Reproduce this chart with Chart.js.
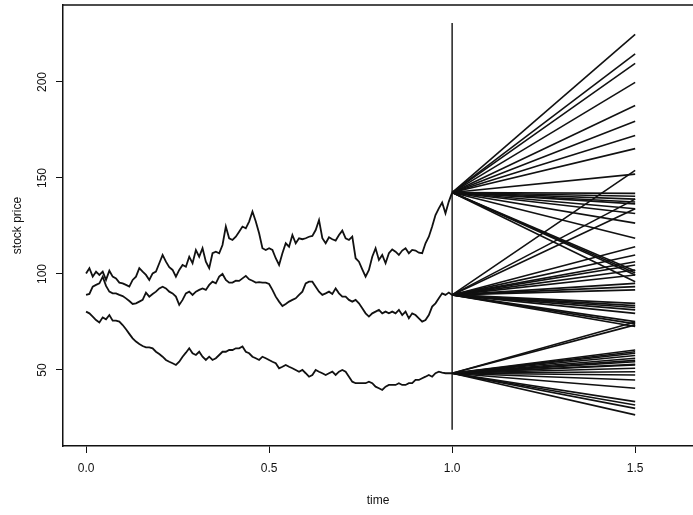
<!DOCTYPE html>
<html>
<head>
<meta charset="utf-8">
<script src="https://cdn.jsdelivr.net/npm/chart.js@4/dist/chart.umd.min.js"></script>
<style>
  html, body { margin: 0; padding: 0; background: #fff; }
  #wrap { width: 693px; height: 515px; position: relative; }
</style>
</head>
<body>
<div id="wrap"><canvas id="c" width="693" height="515"></canvas></div>
<script>
// Three simulated price paths over [0, 1], sampled at 111 equally spaced times.
const topPath = [
  100.3, 103.0, 98.6, 101.2, 99.5, 101.2, 96.9, 101.7, 98.6, 97.7,
  95.5, 95.1, 94.3, 93.4, 96.9, 98.6, 103.0, 101.2, 99.5, 96.9,
  100.3, 101.2, 105.6, 109.9, 106.4, 103.5, 102.1, 98.6, 102.1, 104.7,
  103.8, 109.0, 105.6, 112.5, 109.0, 113.4, 106.4, 103.0, 110.8, 111.6,
  110.8, 115.1, 124.7, 118.6, 117.7, 119.4, 122.0, 124.7, 123.8, 127.3,
  132.5, 127.3, 121.2, 113.4, 112.5, 113.4, 112.5, 108.2, 104.7, 110.8,
  116.0, 114.2, 120.3, 116.0, 118.6, 118.1, 118.6, 119.4, 119.8, 122.9,
  128.1, 118.6, 116.0, 119.1, 118.1, 117.4, 120.3, 122.6, 118.6, 117.7,
  119.4, 108.2, 106.4, 102.4, 98.6, 102.1, 109.0, 113.4, 107.3, 109.9,
  105.6, 110.8, 112.8, 111.6, 109.9, 112.2, 113.4, 110.8, 112.5, 112.2,
  111.1, 110.8, 116.0, 119.4, 124.7, 130.7, 134.2, 137.2, 131.6, 137.7,
  142.4
];
const midPath = [
  89.1, 89.6, 93.4, 94.3, 95.1, 98.6, 93.8, 90.8, 89.9, 89.9,
  89.1, 88.5, 87.3, 85.9, 84.4, 84.7, 85.6, 86.5, 90.3, 88.2,
  89.6, 90.8, 92.5, 93.4, 92.5, 90.8, 89.9, 88.2, 83.9, 86.5,
  89.9, 90.8, 89.1, 90.8, 91.7, 92.5, 91.7, 94.3, 96.0, 95.1,
  98.6, 100.0, 96.9, 95.5, 95.5, 96.5, 96.4, 97.7, 99.0, 97.2,
  96.5, 95.5, 95.8, 95.5, 95.5, 94.8, 91.7, 88.2, 85.6, 83.3,
  84.4, 85.6, 86.5, 87.3, 89.1, 90.8, 95.1, 96.0, 96.0, 93.4,
  90.8, 89.1, 89.9, 90.8, 89.6, 92.5, 89.9, 88.2, 88.2, 86.5,
  85.6, 86.5, 84.7, 82.1, 79.5, 77.8, 79.5, 80.4, 81.3, 79.5,
  80.4, 79.5, 80.4, 79.5, 81.3, 78.6, 80.4, 76.9, 79.5, 78.6,
  76.9, 75.2, 76.0, 78.6, 83.0, 84.7, 87.3, 89.9, 89.1, 90.3,
  89.1
];
const botPath = [
  80.4, 79.5, 77.8, 76.0, 74.7, 77.4, 76.4, 78.6, 75.7, 75.7,
  75.2, 73.4, 71.2, 68.8, 66.5, 64.8, 63.5, 62.5, 61.8, 61.8,
  61.3, 59.5, 58.3, 56.9, 55.2, 54.3, 53.5, 52.6, 54.3, 56.9,
  59.0, 61.3, 58.7, 57.8, 59.5, 56.9, 55.2, 56.9, 55.2, 56.1,
  57.8, 59.5, 59.5, 60.4, 60.4, 61.3, 61.3, 62.2, 59.5, 58.7,
  56.9, 56.1, 55.2, 56.9, 56.1, 55.2, 54.3, 53.5, 50.9, 51.7,
  52.6, 51.7, 50.9, 50.0, 49.1, 50.0, 48.3, 46.5, 47.4, 50.0,
  49.1, 48.3, 47.4, 48.3, 49.1, 47.4, 49.1, 50.0, 49.1, 46.5,
  43.9, 43.1, 43.1, 43.1, 43.1, 43.9, 43.1, 41.3, 40.5, 39.6,
  41.3, 42.2, 42.2, 42.2, 43.1, 42.2, 42.2, 43.1, 43.1, 44.8,
  44.8, 45.7, 46.5, 47.4, 46.5, 48.3, 49.1, 48.6, 48.3, 48.3,
  48.3
];

// Prices at the horizon (t = 1.5) for each scenario fanning out from t = 1.
const topEnds = [224.8, 214.6, 209.7, 199.8, 187.8, 179.5, 172.1, 165.3, 152.0, 142.0,
                 140.5, 139.0, 137.5, 136.5, 134.0, 131.5, 126.5, 118.6, 101.5, 100.5, 99.5, 96.0];
const midEnds = [154.0, 139.0, 134.0, 114.2, 109.9, 106.4, 104.7, 102.1, 99.5, 95.1,
                 93.4, 91.7, 84.7, 83.5, 82.5, 81.3, 79.5, 75.2, 74.0, 72.6];
const botEnds = [75.0, 73.5, 60.4, 59.5, 58.7, 57.5, 56.1, 55.0, 54.3, 53.0,
                 52.6, 50.9, 49.1, 47.4, 44.8, 40.5, 33.5, 31.8, 30.0, 26.6];

const T_NOW = 1.0, T_END = 1.5;
const dividerRange = [18.8, 230.7];
const xTicks = [0, 0.5, 1.0, 1.5];
const yTicks = [50, 100, 150, 200];

const INK = '#111';
const FONT = { family: '"Liberation Sans", Arial, Helvetica, sans-serif', size: 12 };

const lineDs = (pts, width) => ({
  data: pts, showLine: true, borderColor: INK, borderWidth: width,
  pointRadius: 0, pointHoverRadius: 0, tension: 0, fill: false
});

const datasets = [];
[topPath, midPath, botPath].forEach(path => {
  const pts = path.map((v, k) => ({ x: k / (path.length - 1), y: v }));
  datasets.push(lineDs(pts, 1.8));
});
[[topPath, topEnds], [midPath, midEnds], [botPath, botEnds]].forEach(([path, ends]) => {
  const start = path[path.length - 1];
  ends.forEach(e => datasets.push(lineDs([{ x: T_NOW, y: start }, { x: T_END, y: e }], 1.6)));
});
datasets.push(lineDs([{ x: T_NOW, y: dividerRange[0] }, { x: T_NOW, y: dividerRange[1] }], 1.4));

// Upper frame line of the plotting region.
const frameTop = {
  id: 'frameTop',
  afterDatasetsDraw(chart) {
    const { ctx, chartArea: a } = chart;
    ctx.save();
    ctx.strokeStyle = INK;
    ctx.lineWidth = 1.5;
    ctx.beginPath();
    ctx.moveTo(a.left, a.top);
    ctx.lineTo(a.right, a.top);
    ctx.stroke();
    ctx.restore();
  }
};

new Chart(document.getElementById('c'), {
  type: 'scatter',
  data: { datasets },
  plugins: [frameTop],
  options: {
    responsive: false,
    animation: false,
    events: [],
    layout: { padding: { top: 5, right: 0, left: 0, bottom: 0 } },
    plugins: { legend: { display: false }, tooltip: { enabled: false } },
    scales: {
      x: {
        type: 'linear',
        min: -0.063, max: 1.658,
        afterBuildTicks: s => { s.ticks = xTicks.map(v => ({ value: v })); },
        afterFit: s => { s.height = 69; s.paddingLeft = 0; s.paddingRight = 0; },
        grid: { drawOnChartArea: false, drawTicks: true, tickLength: 7, color: INK, lineWidth: 1 },
        border: { display: true, color: INK, width: 1.5 },
        ticks: { color: INK, font: FONT, padding: 8, maxRotation: 0, callback: v => v.toFixed(1) },
        title: { display: true, text: 'time', color: INK, font: FONT, padding: { top: 0, bottom: 7 } }
      },
      y: {
        type: 'linear',
        min: 10.4, max: 240.1,
        afterBuildTicks: s => { s.ticks = yTicks.map(v => ({ value: v })); },
        afterFit: s => { s.width = 63; s.paddingTop = 0; s.paddingBottom = 0; },
        grid: { drawOnChartArea: false, drawTicks: true, tickLength: 7, color: INK, lineWidth: 1 },
        border: { display: true, color: INK, width: 1.5 },
        ticks: { color: INK, font: FONT, padding: 3, minRotation: 90, maxRotation: 90, crossAlign: 'center' },
        title: { display: true, text: 'stock price', color: INK, font: FONT, padding: { top: 10, bottom: 0 } }
      }
    }
  }
});
</script>
</body>
</html>
